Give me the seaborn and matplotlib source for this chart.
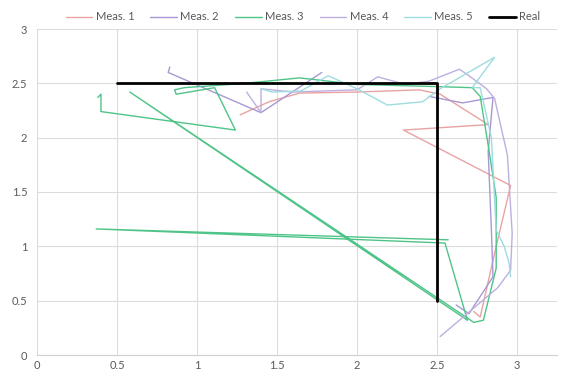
import matplotlib
matplotlib.use("Agg")
import matplotlib.pyplot as plt
import pandas as pd
import seaborn as sns

# ---- measured trajectories (x, y in metres); seg splits a series into separate strokes ----
meas1_x = [1.27, 1.45, 1.64, 2.00, 2.39, 2.52, 2.82, 2.29, 2.96, 2.87, 2.77, 2.73]
meas1_y = [2.21, 2.33, 2.41, 2.42, 2.44, 2.40, 2.12, 2.07, 1.56, 1.00, 0.35, 0.40]
meas1_seg = [0] * len(meas1_x)

meas2_x = [0.83, 0.82, 1.40, 1.78,
           2.45, 2.66, 2.85, 2.82, 2.84, 2.85, 2.70, 2.62]
meas2_y = [2.65, 2.60, 2.23, 2.60,
           2.38, 2.32, 2.37, 1.87, 1.15, 0.72, 0.38, 0.46]
meas2_seg = [0, 0, 0, 0,
             1, 1, 1, 1, 1, 1, 1, 1]

meas3_x = [0.38, 0.40, 0.40, 1.24, 1.11, 0.95, 0.87, 0.86, 0.92, 1.30, 1.64, 2.00,
           2.50, 2.72, 2.77, 2.82, 2.87, 2.87, 2.79, 2.73, 2.66, 0.58, 2.69, 2.55,
           0.37, 2.57]
meas3_y = [2.37, 2.40, 2.24, 2.07, 2.46, 2.42, 2.40, 2.44, 2.46, 2.50, 2.55, 2.49,
           2.47, 2.46, 2.38, 1.93, 1.45, 0.80, 0.32, 0.30, 0.37, 2.42, 0.32, 1.03,
           1.16, 1.06]
meas3_seg = [0] * len(meas3_x)

meas4_x = [1.31, 1.40, 1.40, 1.60, 2.00, 2.13, 2.30, 2.45, 2.64, 2.69, 2.81, 2.86,
           2.94, 2.97, 2.96, 2.88, 2.52]
meas4_y = [2.42, 2.23, 2.45, 2.42, 2.44, 2.56, 2.49, 2.52, 2.63, 2.58, 2.45, 2.36,
           1.84, 1.12, 0.78, 0.62, 0.17]
meas4_seg = [0] * len(meas4_x)

meas5_x = [1.40, 1.47, 1.65, 1.82, 2.00, 2.19, 2.41, 2.52, 2.86, 2.72, 2.77, 2.84,
           2.87, 2.92, 2.95, 2.96]
meas5_y = [2.45, 2.42, 2.43, 2.57, 2.45, 2.30, 2.33, 2.45, 2.74, 2.46, 2.46, 2.00,
           1.15, 1.00, 0.85, 0.72]
meas5_seg = [0] * len(meas5_x)

real_x = [0.5, 2.5, 2.5]
real_y = [2.5, 2.5, 0.5]
real_seg = [0, 0, 0]

series_names = ["Meas. 1", "Meas. 2", "Meas. 3", "Meas. 4", "Meas. 5", "Real"]
series_colors = ["#E9A3A3", "#A898D3", "#4FC488", "#BDAFE0", "#9EDCDF", "#000000"]
series_widths = [1.0, 1.0, 1.0, 1.0, 1.0, 2.0]

x_ticks = [0, 0.5, 1, 1.5, 2, 2.5, 3]
y_ticks = [0, 0.5, 1, 1.5, 2, 2.5, 3]

series_data = [
    (meas1_x, meas1_y, meas1_seg),
    (meas2_x, meas2_y, meas2_seg),
    (meas3_x, meas3_y, meas3_seg),
    (meas4_x, meas4_y, meas4_seg),
    (meas5_x, meas5_y, meas5_seg),
    (real_x, real_y, real_seg),
]

sns.set_theme(style="white")
plt.rcParams["font.family"] = ["Lato", "DejaVu Sans"]

W, H = 561, 372
fig = plt.figure(figsize=(W / 100, H / 100), dpi=100)
ax = fig.add_axes([37 / W, (H - 355) / H, (557 - 37) / W, (355 - 29) / H])

for name, color, lw, (xs, ys, segs) in zip(series_names, series_colors,
                                          series_widths, series_data):
    df = pd.DataFrame({"x": xs, "y": ys, "seg": segs})
    sns.lineplot(data=df, x="x", y="y", units="seg", estimator=None, sort=False,
                 color=color, linewidth=lw, label=name, ax=ax, legend=False,
                 zorder=3 if name == "Real" else 2)

ax.set_xlim(0, 3.25)
ax.set_ylim(0, 3)
ax.set_xticks(x_ticks)
ax.set_yticks(y_ticks)
ax.set_xticklabels([f"{v:g}" for v in x_ticks])
ax.set_yticklabels([f"{v:g}" for v in y_ticks])
ax.set_xlabel("")
ax.set_ylabel("")
ax.grid(True, color="#DCDCDC", linewidth=0.8)
ax.set_axisbelow(True)
for side in ["top", "right", "left"]:
    ax.spines[side].set_visible(False)
ax.spines["bottom"].set_color("#D0D0D0")
ax.spines["bottom"].set_linewidth(0.8)
ax.tick_params(axis="both", length=0, labelsize=8, labelcolor="#595959")
ax.tick_params(axis="x", pad=3.5)
ax.tick_params(axis="y", pad=7)

# one legend entry per series
handles, labels = ax.get_legend_handles_labels()
uniq = {}
for h, l in zip(handles, labels):
    if l not in uniq:
        uniq[l] = h
leg = fig.legend([uniq[n] for n in series_names], series_names, loc="center",
                 bbox_to_anchor=(303 / W, 1 - 17 / H), ncol=6, frameon=False,
                 fontsize=8, handlelength=2.4, handletextpad=0.3,
                 columnspacing=1.45)
for t in leg.get_texts():
    t.set_color("#595959")

fig.savefig("out.png", dpi=100)
